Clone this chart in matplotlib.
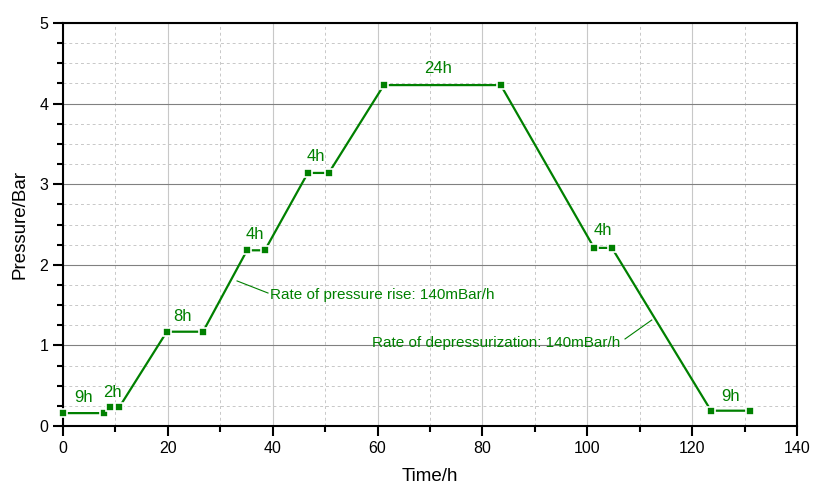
import matplotlib
matplotlib.use("Agg")
import matplotlib.pyplot as plt
from matplotlib.ticker import MultipleLocator

plt.rcParams['font.family'] = ['Liberation Sans', 'DejaVu Sans']

# pressure profile
time_h = [0, 7.9, 8.9, 10.7, 19.8, 26.7, 35.1, 38.5, 46.7, 50.7,
          61.2, 83.5, 101.3, 104.7, 123.6, 131.0]
pressure = [0.16, 0.16, 0.23, 0.23, 1.17, 1.17, 2.18, 2.18, 3.14, 3.14,
            4.23, 4.23, 2.21, 2.21, 0.19, 0.19]

# hold labels: text, x, y
hold_text = ["9h", "2h", "8h", "4h", "4h", "24h", "4h", "9h"]
hold_x = [4.0, 9.4, 22.8, 36.6, 48.2, 71.5, 103.0, 127.3]
hold_y = [0.35, 0.42, 1.36, 2.37, 3.34, 4.43, 2.42, 0.37]

# rate notes with their leader lines
rise_note = "Rate of pressure rise: 140mBar/h"
rise_leader_x = [33.2, 39.1]
rise_leader_y = [1.80, 1.65]
drop_note = "Rate of depressurization: 140mBar/h"
drop_leader_x = [107.2, 112.3]
drop_leader_y = [1.08, 1.315]

green = "#008000"

fig = plt.figure(figsize=(8.13, 4.9), dpi=100)
ax = fig.add_axes([0.0775, 0.1306, 0.9028, 0.8224])

ax.plot(time_h, pressure, color=green, lw=1.6, marker="s", ms=5.5,
        mec="white", mew=1.2, mfc=green, zorder=3, clip_on=False)

for t, x, y in zip(hold_text, hold_x, hold_y):
    ax.text(x, y, t, color=green, fontsize=12, ha="center", va="center")

ax.plot(rise_leader_x, rise_leader_y, color=green, lw=0.8)
ax.text(39.5, 1.62, rise_note, color=green, fontsize=11, va="center", ha="left")
ax.plot(drop_leader_x, drop_leader_y, color=green, lw=0.8)
ax.text(106.2, 1.03, drop_note, color=green, fontsize=11, va="center", ha="right")

ax.set_xlim(0, 140)
ax.set_ylim(0, 5)
ax.xaxis.set_major_locator(MultipleLocator(20))
ax.xaxis.set_minor_locator(MultipleLocator(10))
ax.yaxis.set_major_locator(MultipleLocator(1))
ax.yaxis.set_minor_locator(MultipleLocator(0.25))

ax.grid(which="major", axis="y", color="#808080", lw=0.8, ls="-")
ax.grid(which="major", axis="x", color="#c8c8c8", lw=0.8, ls="-")
ax.grid(which="minor", color="#c8c8c8", lw=0.7, ls=(0, (3, 3)))
ax.set_axisbelow(True)

for s in ax.spines.values():
    s.set_linewidth(1.5)
ax.tick_params(which="major", length=7, width=1.5, labelsize=11.5, direction="out")
ax.tick_params(which="minor", length=4, width=1.5, direction="out")

ax.set_xlabel("Time/h", fontsize=13.5, labelpad=9)
ax.set_ylabel("Pressure/Bar", fontsize=13.5, labelpad=8)

fig.savefig("out.png", dpi=100)
